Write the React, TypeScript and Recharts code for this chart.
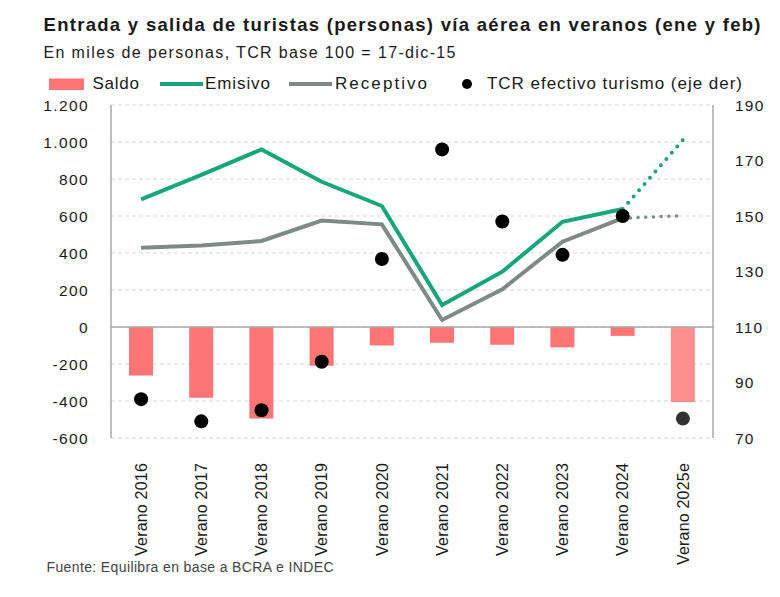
import {
  Bar,
  CartesianGrid,
  Cell,
  ComposedChart,
  Line,
  ReferenceLine,
  Scatter,
  XAxis,
  YAxis
} from "recharts";

const CATEGORIES = [
  "Verano 2016",
  "Verano 2017",
  "Verano 2018",
  "Verano 2019",
  "Verano 2020",
  "Verano 2021",
  "Verano 2022",
  "Verano 2023",
  "Verano 2024",
  "Verano 2025e"
];

// miles de personas
const EMISIVO = [690, 822, 960, 785, 654, 119, 299, 569, 638, 1011];
const RECEPTIVO = [429, 440, 465, 575, 555, 38, 204, 461, 588, 602];
const SALDO = [-262, -382, -495, -210, -100, -85, -96, -110, -48, -405];

// TCR efectivo turismo, base 100 = 17-dic-15 (eje derecho)
const TCR_TURISMO = [84, 76, 80, 97.5, 134.5, 174, 148, 136, 150, 77];

const LEFT_TICKS = [-600, -400, -200, 0, 200, 400, 600, 800, 1000, 1200];
const RIGHT_TICKS = [70, 90, 110, 130, 150, 170, 190];

// último verano con dato observado; el siguiente es estimación
const LAST_OBSERVED = 8;

const FONT = '"Liberation Sans", Arial, sans-serif';
const INK = "#1a1a1a";
const GREEN = "#17a57c";
const GRAY = "#7f8a86";
const RED = "#ff7474";
const RED_EST = "#ff8e8e";

const data = CATEGORIES.map((label, i) => ({
  label,
  saldo: SALDO[i],
  emisivo: i <= LAST_OBSERVED ? EMISIVO[i] : null,
  emisivoEst: i >= LAST_OBSERVED ? EMISIVO[i] : null,
  receptivo: i <= LAST_OBSERVED ? RECEPTIVO[i] : null,
  receptivoEst: i >= LAST_OBSERVED ? RECEPTIVO[i] : null,
  tcr: TCR_TURISMO[i]
}));

function formatMiles(value: number) {
  const sign = value < 0 ? "-" : "";
  return sign + Math.abs(value).toString().replace(/\B(?=(\d{3})+(?!\d))/g, ".");
}

function CategoryTick({ x, y, payload }: any) {
  return (
    <g transform={`translate(${x},${y + 17})`}>
      <text
        transform="rotate(-90)"
        textAnchor="end"
        dy="0.36em"
        fontFamily={FONT}
        fontSize={16}
        letterSpacing={0.2}
        fill={INK}
      >
        {payload.value}
      </text>
    </g>
  );
}

function TcrDot({ cx, cy, index }: any) {
  if (cx == null || cy == null) return null;
  return <circle cx={cx} cy={cy} r={7} fill={index > LAST_OBSERVED ? "#333" : "#000"} />;
}

function LegendText({ x, width, children }: { x: number; width: number; children: string }) {
  return (
    <text x={x} y={89} fontSize={17} fill={INK} textLength={width} lengthAdjust="spacing">
      {children}
    </text>
  );
}

export default function App() {
  return (
    <div
      style={{
        position: "absolute",
        left: 0,
        top: 0,
        width: 780,
        height: 597,
        background: "#fff"
      }}
    >
      <ComposedChart
        width={780}
        height={597}
        data={data}
        margin={{ top: 105, right: 0, bottom: 39, left: 30 }}
      >
        <CartesianGrid
          yAxisId="left"
          vertical={false}
          stroke="#d6d6d6"
          strokeDasharray="4 3"
        />
        <XAxis
          dataKey="label"
          axisLine={false}
          tickLine={false}
          interval={0}
          height={120}
          tick={<CategoryTick />}
        />
        <YAxis
          yAxisId="left"
          domain={[-600, 1200]}
          ticks={LEFT_TICKS}
          tickFormatter={formatMiles}
          width={81}
          axisLine={{ stroke: "#a8a8a8", strokeWidth: 1.5 }}
          tickLine={false}
          tickSize={0}
          tickMargin={22}
          tick={{ fontFamily: FONT, fontSize: 15.5, fill: INK, letterSpacing: 1.4 }}
        />
        <YAxis
          yAxisId="right"
          orientation="right"
          domain={[70, 190]}
          ticks={RIGHT_TICKS}
          width={67}
          axisLine={{ stroke: "#a8a8a8", strokeWidth: 1.5 }}
          tickLine={false}
          tickSize={0}
          tickMargin={22}
          tick={{ fontFamily: FONT, fontSize: 15.5, fill: INK, letterSpacing: 1.2, textAnchor: "start" }}
        />
        <Bar yAxisId="left" dataKey="saldo" barSize={24} isAnimationActive={false}>
          {data.map((row, i) => (
            <Cell key={row.label} fill={i > LAST_OBSERVED ? RED_EST : RED} />
          ))}
        </Bar>
        <ReferenceLine yAxisId="left" y={0} stroke="#a8a8a8" strokeWidth={1.5} />
        <Line
          yAxisId="left"
          dataKey="receptivo"
          type="linear"
          stroke={GRAY}
          strokeWidth={4}
          dot={false}
          isAnimationActive={false}
        />
        <Line
          yAxisId="left"
          dataKey="receptivoEst"
          type="linear"
          stroke={GRAY}
          strokeWidth={3.5}
          strokeDasharray="0 7.7"
          strokeLinecap="round"
          dot={false}
          isAnimationActive={false}
        />
        <Line
          yAxisId="left"
          dataKey="emisivo"
          type="linear"
          stroke={GREEN}
          strokeWidth={4}
          dot={false}
          isAnimationActive={false}
        />
        <Line
          yAxisId="left"
          dataKey="emisivoEst"
          type="linear"
          stroke={GREEN}
          strokeWidth={4}
          strokeDasharray="0 8.3"
          strokeLinecap="round"
          dot={false}
          isAnimationActive={false}
        />
        <Scatter
          yAxisId="right"
          dataKey="tcr"
          shape={<TcrDot />}
          isAnimationActive={false}
        />
      </ComposedChart>

      <svg
        width={780}
        height={597}
        style={{ position: "absolute", left: 0, top: 0, pointerEvents: "none" }}
        fontFamily={FONT}
      >
        <text
          x={43.5}
          y={31}
          fontSize={18.5}
          fontWeight="bold"
          fill={INK}
          textLength={717}
          lengthAdjust="spacing"
        >
          Entrada y salida de turistas (personas) vía aérea en veranos (ene y feb)
        </text>
        <text x={43.5} y={58} fontSize={16} fill={INK} textLength={412} lengthAdjust="spacing">
          En miles de personas, TCR base 100 = 17-dic-15
        </text>

        <rect x={49} y={78.5} width={35} height={11.5} fill={RED} />
        <LegendText x={92.5} width={46.5}>Saldo</LegendText>
        <line x1={160} x2={203} y1={84} y2={84} stroke={GREEN} strokeWidth={4} />
        <LegendText x={205} width={65}>Emisivo</LegendText>
        <line x1={289} x2={332} y1={84} y2={84} stroke={GRAY} strokeWidth={4} />
        <LegendText x={335} width={92}>Receptivo</LegendText>
        <circle cx={467} cy={84} r={5} fill="#000" />
        <LegendText x={487} width={255}>TCR efectivo turismo (eje der)</LegendText>

        <text x={46.5} y={571.5} fontSize={14} fill="#444" textLength={287} lengthAdjust="spacing">
          Fuente: Equilibra en base a BCRA e INDEC
        </text>
      </svg>
    </div>
  );
}
